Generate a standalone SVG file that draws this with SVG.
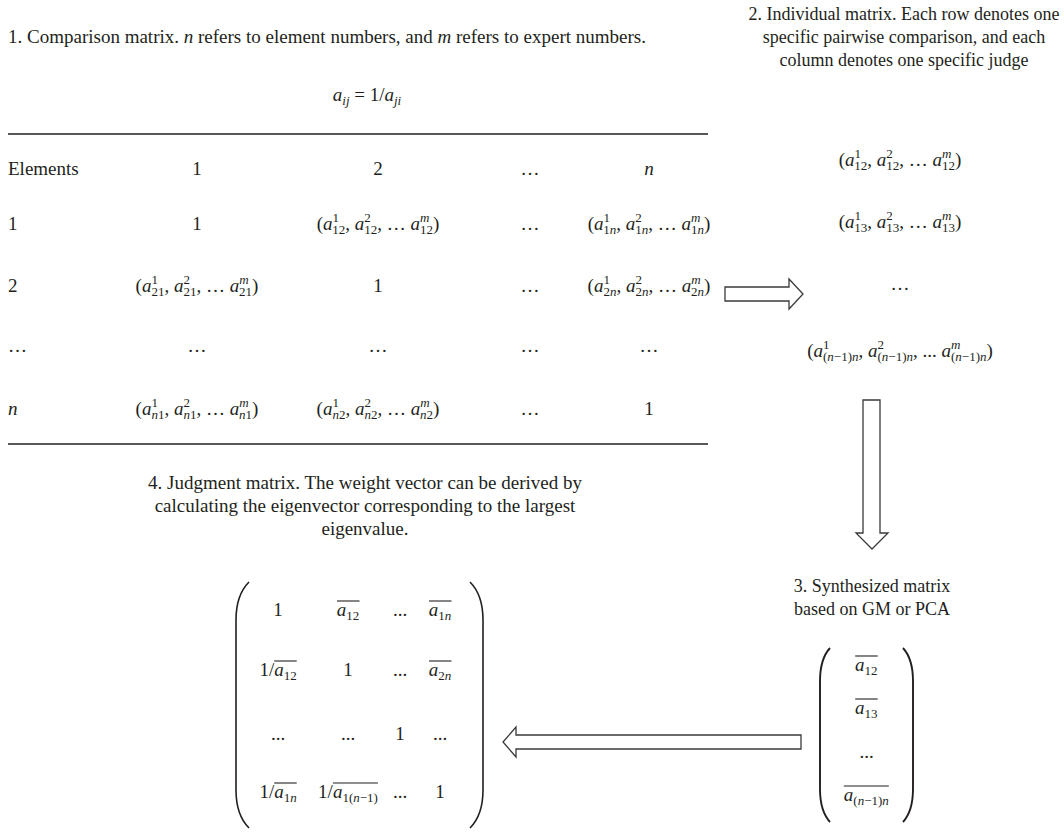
<svg xmlns="http://www.w3.org/2000/svg" width="1064" height="833" viewBox="0 0 1064 833">
<style>
text{font-family:"Liberation Serif","Times New Roman",serif;font-size:19px;fill:#231f20}
.i{font-style:italic}
.s{font-size:13px}
.m{text-anchor:middle}
.sm{font-size:18px}
.rule{stroke:#231f20;stroke-width:1.5}
.ov{stroke:#231f20;stroke-width:1.1}
.par{fill:none;stroke:#231f20;stroke-width:1.6}
.par2{fill:none;stroke:#231f20;stroke-width:1.9}
.arr{fill:#fff;stroke:#3a3a3a;stroke-width:1.3;stroke-linejoin:miter}
</style>
<rect width="1064" height="833" fill="#fff"/>

<g id="comparison-matrix">
<text x="8" y="43">1. Comparison matrix. <tspan class="i">n</tspan> refers to element numbers, and <tspan class="i">m</tspan> refers to expert numbers.</text>
<text class="m" x="367" y="101"><tspan class="i">a</tspan><tspan class="s i" dy="4">ij</tspan><tspan dy="-4"> = 1/</tspan><tspan class="i">a</tspan><tspan class="s i" dy="4">ji</tspan></text>
<line class="rule" x1="8" y1="134" x2="708" y2="134"/>
<text x="8" y="175">Elements</text>
<text class="m" x="197" y="175">1</text>
<text class="m" x="378" y="175">2</text>
<text class="m" x="530" y="175">…</text>
<text class="m i" x="649" y="175">n</text>

<text x="8" y="230">1</text>
<text class="m" x="197" y="230">1</text>
<text class="m" x="378" y="230">(<tspan class="i">a</tspan><tspan class="s" dy="-8">1</tspan><tspan class="s" dx="-6.5" dy="12">12</tspan><tspan dy="-4">, </tspan><tspan class="i">a</tspan><tspan class="s" dy="-8">2</tspan><tspan class="s" dx="-6.5" dy="12">12</tspan><tspan dy="-4">, … </tspan><tspan class="i">a</tspan><tspan class="s i" dy="-8">m</tspan><tspan class="s" dx="-9.4" dy="12">12</tspan><tspan dy="-4">)</tspan></text>
<text class="m" x="530" y="230">…</text>
<text class="m" x="649" y="230">(<tspan class="i">a</tspan><tspan class="s" dy="-8">1</tspan><tspan class="s" dx="-6.5" dy="12">1<tspan class="i">n</tspan></tspan><tspan dy="-4">, </tspan><tspan class="i">a</tspan><tspan class="s" dy="-8">2</tspan><tspan class="s" dx="-6.5" dy="12">1<tspan class="i">n</tspan></tspan><tspan dy="-4">, … </tspan><tspan class="i">a</tspan><tspan class="s i" dy="-8">m</tspan><tspan class="s" dx="-9.4" dy="12">1<tspan class="i">n</tspan></tspan><tspan dy="-4">)</tspan></text>

<text x="8" y="292">2</text>
<text class="m" x="197" y="292">(<tspan class="i">a</tspan><tspan class="s" dy="-8">1</tspan><tspan class="s" dx="-6.5" dy="12">21</tspan><tspan dy="-4">, </tspan><tspan class="i">a</tspan><tspan class="s" dy="-8">2</tspan><tspan class="s" dx="-6.5" dy="12">21</tspan><tspan dy="-4">, … </tspan><tspan class="i">a</tspan><tspan class="s i" dy="-8">m</tspan><tspan class="s" dx="-9.4" dy="12">21</tspan><tspan dy="-4">)</tspan></text>
<text class="m" x="378" y="292">1</text>
<text class="m" x="530" y="292">…</text>
<text class="m" x="649" y="292">(<tspan class="i">a</tspan><tspan class="s" dy="-8">1</tspan><tspan class="s" dx="-6.5" dy="12">2<tspan class="i">n</tspan></tspan><tspan dy="-4">, </tspan><tspan class="i">a</tspan><tspan class="s" dy="-8">2</tspan><tspan class="s" dx="-6.5" dy="12">2<tspan class="i">n</tspan></tspan><tspan dy="-4">, … </tspan><tspan class="i">a</tspan><tspan class="s i" dy="-8">m</tspan><tspan class="s" dx="-9.4" dy="12">2<tspan class="i">n</tspan></tspan><tspan dy="-4">)</tspan></text>

<text x="8" y="352">…</text>
<text class="m" x="197" y="352">…</text>
<text class="m" x="378" y="352">…</text>
<text class="m" x="530" y="352">…</text>
<text class="m" x="649" y="352">…</text>

<text class="i" x="8" y="415">n</text>
<text class="m" x="197" y="415">(<tspan class="i">a</tspan><tspan class="s" dy="-8">1</tspan><tspan class="s" dx="-6.5" dy="12"><tspan class="i">n</tspan>1</tspan><tspan dy="-4">, </tspan><tspan class="i">a</tspan><tspan class="s" dy="-8">2</tspan><tspan class="s" dx="-6.5" dy="12"><tspan class="i">n</tspan>1</tspan><tspan dy="-4">, … </tspan><tspan class="i">a</tspan><tspan class="s i" dy="-8">m</tspan><tspan class="s" dx="-9.4" dy="12"><tspan class="i">n</tspan>1</tspan><tspan dy="-4">)</tspan></text>
<text class="m" x="378" y="415">(<tspan class="i">a</tspan><tspan class="s" dy="-8">1</tspan><tspan class="s" dx="-6.5" dy="12"><tspan class="i">n</tspan>2</tspan><tspan dy="-4">, </tspan><tspan class="i">a</tspan><tspan class="s" dy="-8">2</tspan><tspan class="s" dx="-6.5" dy="12"><tspan class="i">n</tspan>2</tspan><tspan dy="-4">, … </tspan><tspan class="i">a</tspan><tspan class="s i" dy="-8">m</tspan><tspan class="s" dx="-9.4" dy="12"><tspan class="i">n</tspan>2</tspan><tspan dy="-4">)</tspan></text>
<text class="m" x="530" y="415">…</text>
<text class="m" x="649" y="415">1</text>
<line class="rule" x1="8" y1="444" x2="708" y2="444"/>
</g>

<g id="individual-matrix">
<text class="m sm" x="904" y="20">2. Individual matrix. Each row denotes one</text>
<text class="m sm" x="904" y="43">specific pairwise comparison, and each</text>
<text class="m sm" x="904" y="66">column denotes one specific judge</text>
<text class="m" x="900" y="166">(<tspan class="i">a</tspan><tspan class="s" dy="-8">1</tspan><tspan class="s" dx="-6.5" dy="12">12</tspan><tspan dy="-4">, </tspan><tspan class="i">a</tspan><tspan class="s" dy="-8">2</tspan><tspan class="s" dx="-6.5" dy="12">12</tspan><tspan dy="-4">, … </tspan><tspan class="i">a</tspan><tspan class="s i" dy="-8">m</tspan><tspan class="s" dx="-9.4" dy="12">12</tspan><tspan dy="-4">)</tspan></text>
<text class="m" x="900" y="228">(<tspan class="i">a</tspan><tspan class="s" dy="-8">1</tspan><tspan class="s" dx="-6.5" dy="12">13</tspan><tspan dy="-4">, </tspan><tspan class="i">a</tspan><tspan class="s" dy="-8">2</tspan><tspan class="s" dx="-6.5" dy="12">13</tspan><tspan dy="-4">, … </tspan><tspan class="i">a</tspan><tspan class="s i" dy="-8">m</tspan><tspan class="s" dx="-9.4" dy="12">13</tspan><tspan dy="-4">)</tspan></text>
<text class="m" x="900" y="290">…</text>
<text class="m" x="900" y="357">(<tspan class="i">a</tspan><tspan class="s" dy="-8">1</tspan><tspan class="s" dx="-6.5" dy="12">(<tspan class="i">n</tspan>−1)<tspan class="i">n</tspan></tspan><tspan dy="-4">, </tspan><tspan class="i">a</tspan><tspan class="s" dy="-8">2</tspan><tspan class="s" dx="-6.5" dy="12">(<tspan class="i">n</tspan>−1)<tspan class="i">n</tspan></tspan><tspan dy="-4">, ... </tspan><tspan class="i">a</tspan><tspan class="s i" dy="-8">m</tspan><tspan class="s" dx="-9.4" dy="12">(<tspan class="i">n</tspan>−1)<tspan class="i">n</tspan></tspan><tspan dy="-4">)</tspan></text>
</g>

<g id="synthesized-matrix">
<text class="m sm" x="872" y="592">3. Synthesized matrix</text>
<text class="m sm" x="872" y="615">based on GM or PCA</text>
<path class="par2" d="M830,648 Q820,659 820,681 L820,789 Q820,811 830,822"/>
<path class="par2" d="M903,648 Q913,659 913,681 L913,789 Q913,811 903,822"/>
<text x="855" y="671"><tspan class="i">a</tspan><tspan class="s" dy="4">12</tspan></text>
<line class="ov" x1="855.2" y1="656" x2="877.7" y2="656"/>
<text x="855" y="714"><tspan class="i">a</tspan><tspan class="s" dy="4">13</tspan></text>
<line class="ov" x1="855.2" y1="699" x2="877.7" y2="699"/>
<text class="m" x="866.5" y="758">...</text>
<text x="843.8" y="801"><tspan class="i">a</tspan><tspan class="s" dy="4">(<tspan class="i">n</tspan>−1)<tspan class="i">n</tspan></tspan></text>
<line class="ov" x1="843.8" y1="786" x2="888.8" y2="786"/>
</g>

<g id="judgment-matrix">
<text class="m" x="365" y="489">4. Judgment matrix. The weight vector can be derived by</text>
<text class="m" x="365" y="512">calculating the eigenvector corresponding to the largest</text>
<text class="m" x="365" y="535">eigenvalue.</text>
<path class="par" d="M249,582 Q236,595 236,620 L236,790 Q236,815 249,828"/>
<path class="par" d="M470,582 Q483,595 483,620 L483,790 Q483,815 470,828"/>
<text class="m" x="278" y="616">1</text>
<text x="336.75" y="616"><tspan class="i">a</tspan><tspan class="s" dy="4">12</tspan></text>
<line class="ov" x1="337" y1="601" x2="359.5" y2="601"/>
<text class="m" x="400" y="616">...</text>
<text x="428.75" y="616"><tspan class="i">a</tspan><tspan class="s" dy="4">1<tspan class="i">n</tspan></tspan></text>
<line class="ov" x1="429" y1="601" x2="451.5" y2="601"/>

<text x="259.4" y="676">1/<tspan class="i">a</tspan><tspan class="s" dy="4">12</tspan></text>
<line class="ov" x1="274.2" y1="661" x2="296.7" y2="661"/>
<text class="m" x="348" y="676">1</text>
<text class="m" x="400" y="676">...</text>
<text x="428.75" y="676"><tspan class="i">a</tspan><tspan class="s" dy="4">2<tspan class="i">n</tspan></tspan></text>
<line class="ov" x1="429" y1="661" x2="451.5" y2="661"/>

<text class="m" x="278" y="740">...</text>
<text class="m" x="348" y="740">...</text>
<text class="m" x="400" y="740">1</text>
<text class="m" x="440" y="740">...</text>

<text x="259.4" y="798">1/<tspan class="i">a</tspan><tspan class="s" dy="4">1<tspan class="i">n</tspan></tspan></text>
<line class="ov" x1="274.2" y1="783" x2="296.7" y2="783"/>
<text x="318.1" y="798">1/<tspan class="i">a</tspan><tspan class="s" dy="4">1(<tspan class="i">n</tspan>−1)</tspan></text>
<line class="ov" x1="332.9" y1="783" x2="377.9" y2="783"/>
<text class="m" x="400" y="798">...</text>
<text class="m" x="440" y="798">1</text>
</g>

<g id="connectors">
<polygon class="arr" points="725,287 789,287 789,279 803,294 789,309 789,301 725,301"/>
<polygon class="arr" points="863,400 880,400 880,533 888,533 872,549 856,533 863,533"/>
<polygon class="arr" points="801,735 516,735 516,727 503,742 516,757 516,749 801,749"/>
</g>
</svg>
